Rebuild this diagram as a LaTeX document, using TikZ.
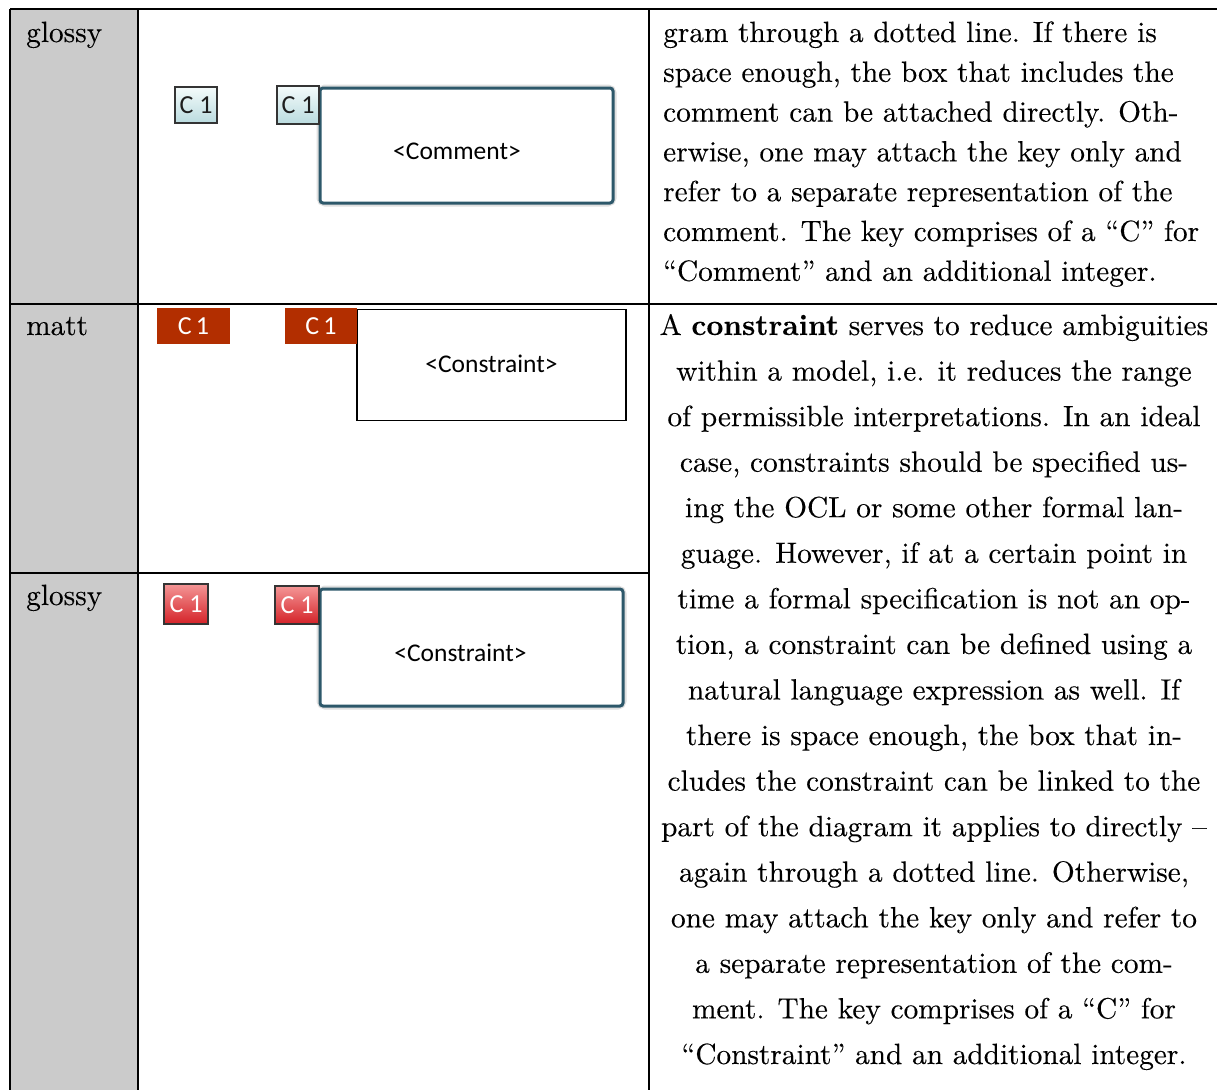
\documentclass[tikz,border=0pt]{standalone}
\usepackage{fontspec}
\setmainfont{lmroman10-regular.otf}[BoldFont=lmroman10-bold.otf, FakeBold=0.2]
\newfontfamily\carlito{Carlito}
\definecolor{cellgrey}{RGB}{203,203,203}
\definecolor{mattred}{RGB}{178,46,0}
\definecolor{keyedge}{RGB}{52,52,52}
\definecolor{cyantop}{RGB}{244,251,251}
\definecolor{cyanbot}{RGB}{186,219,223}
\definecolor{redtop}{RGB}{244,150,150}
\definecolor{redmid}{RGB}{230,72,74}
\definecolor{redbot}{RGB}{212,34,40}
\definecolor{slateedge}{RGB}{45,88,106}
\begin{document}
\begin{tikzpicture}[x=1pt,y=-1pt,
  rule/.style={line width=2.8pt,black},
  bodyline/.style={font=\fontsize{29.3}{29.3}\selectfont, inner sep=0pt},
  leftline/.style={bodyline, anchor=base west},
  midline/.style={bodyline, anchor=base},
  rowlabel/.style={bodyline, anchor=base west},
  keytext/.style={font=\carlito\fontsize{26}{26}\selectfont, inner sep=0pt},
  glosskey/.style={keytext, draw=keyedge, line width=1.3pt, top color=cyantop, bottom color=cyanbot, text={rgb,255:red,30;green,30;blue,30}},
  redkey/.style={keytext, draw=keyedge, line width=1.3pt, top color=redtop, middle color=redmid, bottom color=redbot, text=white},
  mattkey/.style={keytext, fill=mattred, text=white},
  glossbox/.style={draw=slateedge, line width=3pt, rounded corners=3pt, fill=white, inner sep=0pt},
  glowbox/.style={draw=black!12, line width=7pt, rounded corners=5pt, inner sep=0pt},
  mattbox/.style={draw=black, line width=1.5pt, fill=white, inner sep=0pt},
  boxtext/.style={font=\carlito\fontsize{25.5}{25.5}\selectfont, inner sep=0pt}
]
\useasboundingbox (0,0) rectangle (1217,1090);
\fill[white] (0,0) rectangle (1217,1090);

% grey label column
\fill[cellgrey] (10,9) rectangle (138,1090);

% table rules
\draw[rule] (10,9) -- (1217,9);
\draw[rule] (10,304) -- (1217,304);
\draw[rule] (10,573) -- (649,573);
\draw[rule] (10,9) -- (10,1090);
\draw[rule] (138,9) -- (138,1090);
\draw[rule] (649,9) -- (649,1090);

% row labels
\node[rowlabel] (lab1) at (26,42) {glossy};
\node[rowlabel] (lab2) at (26,335) {matt};
\node[rowlabel] (lab3) at (26,605) {glossy};

% glossy comment keys and box
\node[glowbox, minimum width=293pt, minimum height=115pt] (cglow) at (466.5,145.5) {};
\node[glossbox, minimum width=293pt, minimum height=115pt] (cbox) at (466.5,145.5) {};
\node[boxtext] (ctext) at (457,151) {<Comment>};
\node[glosskey, minimum width=42pt, minimum height=36pt] (ck1) at (196,105) {C 1};
\node[glosskey, minimum width=42pt, minimum height=38pt] (ck2) at (298,105) {C 1};

% matt constraint keys and box
\node[mattbox, minimum width=269pt, minimum height=111pt] (mbox) at (491.5,365) {};
\node[boxtext] (mtext) at (491.5,364) {<Constraint>};
\node[mattkey, minimum width=73pt, minimum height=36pt] (mk1) at (193.5,326) {C\,1};
\node[mattkey, minimum width=72pt, minimum height=36pt] (mk2) at (321,326) {C\,1};

% glossy constraint keys and box
\node[glowbox, minimum width=303pt, minimum height=117pt] (rglow) at (471.5,647.5) {};
\node[glossbox, minimum width=303pt, minimum height=117pt] (rbox) at (471.5,647.5) {};
\node[boxtext] (rtext) at (460.5,653) {<Constraint>};
\node[redkey, minimum width=44pt, minimum height=40pt] (rk1) at (186,604) {C 1};
\node[redkey, minimum width=44pt, minimum height=38pt] (rk2) at (297,605) {C 1};

% comment description
\node[leftline] (t1) at (663,42) {gram through a dotted line. If there is};
\node[leftline] (t2) at (663,81.8) {space enough, the box that includes the};
\node[leftline] (t3) at (663,121.6) {comment can be attached directly. Oth-};
\node[leftline] (t4) at (663,161.4) {erwise, one may attach the key only and};
\node[leftline] (t5) at (663,201.2) {refer to a separate representation of the};
\node[leftline] (t6) at (663,241) {comment. The key comprises of a “C” for};
\node[leftline] (t7) at (663,280.8) {“Comment” and an additional integer.};

% constraint description
\node[midline] (b1) at (934,335) {A \textbf{constraint} serves to reduce ambiguities};
\node[midline] (b2) at (934,380.6) {within a model, i.e. it reduces the range};
\node[midline] (b3) at (934,426.1) {of permissible interpretations. In an ideal};
\node[midline] (b4) at (934,471.7) {case, constraints should be specified us-};
\node[midline] (b5) at (934,517.2) {ing the OCL or some other formal lan-};
\node[midline] (b6) at (934,562.8) {guage. However, if at a certain point in};
\node[midline] (b7) at (934,608.4) {time a formal specification is not an op-};
\node[midline] (b8) at (934,653.9) {tion, a constraint can be defined using a};
\node[midline] (b9) at (934,699.5) {natural language expression as well. If};
\node[midline] (b10) at (934,745) {there is space enough, the box that in-};
\node[midline] (b11) at (934,790.6) {cludes the constraint can be linked to the};
\node[midline] (b12) at (934,836.2) {part of the diagram it applies to directly –};
\node[midline] (b13) at (934,881.7) {again through a dotted line. Otherwise,};
\node[midline] (b14) at (934,927.3) {one may attach the key only and refer to};
\node[midline] (b15) at (934,972.8) {a separate representation of the com-};
\node[midline] (b16) at (934,1018.4) {ment. The key comprises of a “C” for};
\node[midline] (b17) at (934,1064) {“Constraint” and an additional integer.};
\end{tikzpicture}
\end{document}
